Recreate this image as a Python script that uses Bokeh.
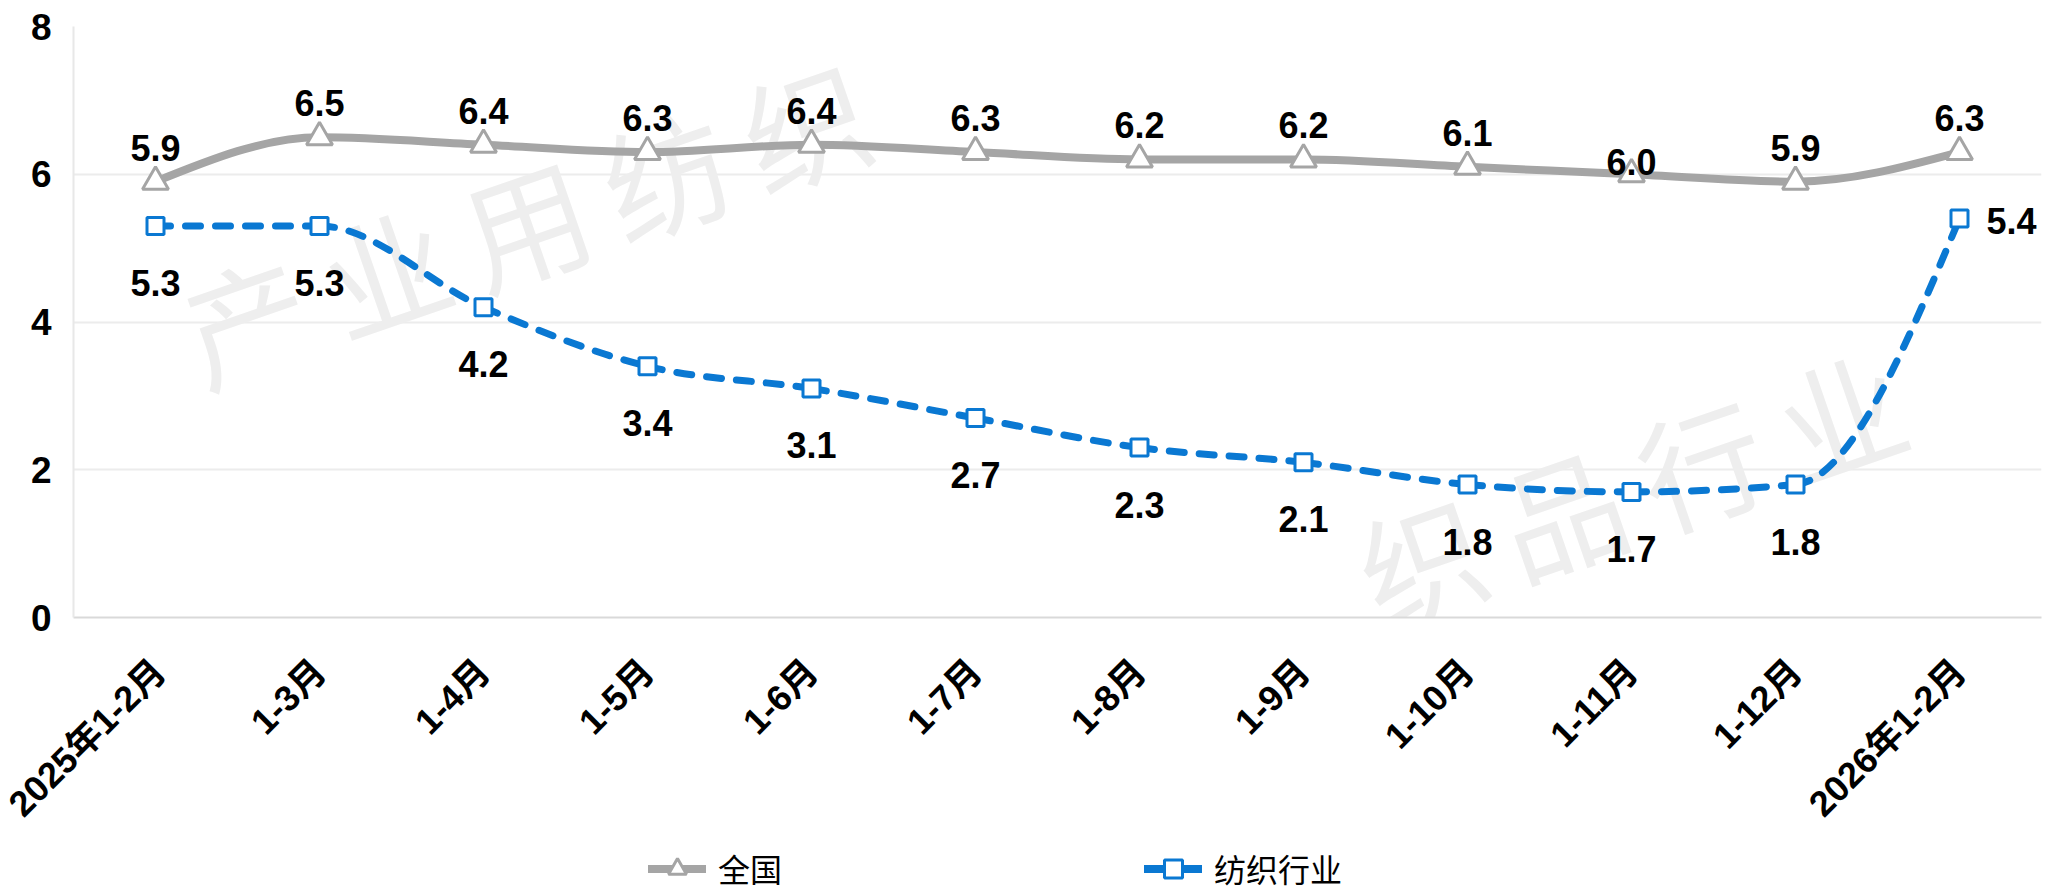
import math
import numpy as np
from bokeh.plotting import figure
from bokeh.layouts import column
from bokeh.models import (Range1d, FixedTicker, Legend, LegendItem, Label,
                          ColumnDataSource)
from bokeh.embed import file_html
from bokeh.resources import INLINE
from bokeh.core.properties import value

# ---------------- data ----------------
categories = ["2025年1-2月", "1-3月", "1-4月", "1-5月", "1-6月", "1-7月",
              "1-8月", "1-9月", "1-10月", "1-11月", "1-12月", "2026年1-2月"]
national = [5.9, 6.5, 6.4, 6.3, 6.4, 6.3, 6.2, 6.2, 6.1, 6.0, 5.9, 6.3]
textile = [5.3, 5.3, 4.2, 3.4, 3.1, 2.7, 2.3, 2.1, 1.8, 1.7, 1.8, 5.4]
series_names = ["全国", "纺织行业"]
y_ticks = [0, 2, 4, 6, 8]
watermark_text = "中国产业用纺织品行业协会"

# ---------------- style ----------------
W, H_MAIN, H_LEG = 2046, 843, 52
FL, FT, FB, FR = 73, 26, 617, 2041          # frame edges on the page
GRAY = "#a5a5a5"
BLUE = "#0a78d2"
NUM_FONT = "'Liberation Sans', 'Noto Sans CJK SC', sans-serif"
CJK_FONT = "'Noto Sans CJK SC', sans-serif"
national_label_dy = [-34] * len(national)
national_label_dy[9] = -12
textile_label_dx = [0] * len(textile)
textile_label_dy = [57] * len(textile)
textile_label_dx[-1] = 52
textile_label_dy[-1] = 2

xs = list(range(len(categories)))


def monotone_segments(x, y):
    """Smoothed (monotone cubic) line as bezier segments; the control points
    are derived from the series points so the curve never overshoots."""
    n = len(x)
    h = [x[i + 1] - x[i] for i in range(n - 1)]
    s = [(y[i + 1] - y[i]) / h[i] for i in range(n - 1)]
    t = [0.0] * n
    for i in range(1, n - 1):
        s0, s1 = s[i - 1], s[i]
        pp = (s0 * h[i] + s1 * h[i - 1]) / (h[i - 1] + h[i])
        sg = (math.copysign(1, s0) if s0 else 0) + (math.copysign(1, s1) if s1 else 0)
        t[i] = sg * min(abs(s0), abs(s1), 0.5 * abs(pp))
    t[0] = (3 * s[0] - t[1]) / 2
    t[-1] = (3 * s[-1] - t[-2]) / 2
    out = {k: [] for k in ("x0", "y0", "x1", "y1", "cx0", "cy0", "cx1", "cy1")}
    for i in range(n - 1):
        dx = h[i] / 3
        out["x0"].append(x[i]); out["y0"].append(y[i])
        out["x1"].append(x[i + 1]); out["y1"].append(y[i + 1])
        out["cx0"].append(x[i] + dx); out["cy0"].append(y[i] + dx * t[i])
        out["cx1"].append(x[i + 1] - dx); out["cy1"].append(y[i + 1] - dx * t[i + 1])
    return out


p = figure(width=W, height=H_MAIN,
           x_range=Range1d(-0.5, len(categories) - 0.5),
           y_range=Range1d(0, 8),
           output_backend="svg", toolbar_location=None,
           min_border_left=FL, min_border_right=W - FR,
           min_border_top=FT, min_border_bottom=H_MAIN - FB)
p.outline_line_color = None
p.background_fill_color = "white"
p.border_fill_color = "white"

# watermark (faint, behind the data; only characters that lie inside the plot area)
theta = math.atan2(48.5, 140)
step = 148
for (sx0, sy0) in [(-35, 413), (581, 848)]:
    for k, ch in enumerate(watermark_text):
        sxk = sx0 + k * step * math.cos(theta)
        syk = sy0 - k * step * math.sin(theta)
        if sxk - 75 < FL or sxk + 75 > FR or syk - 52 < FT or syk + 52 > FB:
            continue
        p.add_layout(Label(x=sxk - FL, y=FB - syk, x_units="screen", y_units="screen",
                           text=ch, angle=theta, text_align="center",
                           text_baseline="middle", text_font=CJK_FONT,
                           text_font_size="125px", text_color="#eeeeee",
                           level="underlay"))

# axes
p.xaxis.ticker = FixedTicker(ticks=xs)
p.xaxis.major_label_overrides = {i: c for i, c in enumerate(categories)}
p.xaxis.major_label_orientation = math.pi / 4
p.xaxis.major_label_text_font = NUM_FONT
p.xaxis.major_label_text_font_style = "bold"
p.xaxis.major_label_text_font_size = "36px"
p.xaxis.major_label_text_color = "black"
p.xaxis.axis_line_color = "#d9d9d9"
p.xaxis.axis_line_width = 2
p.xaxis.major_tick_line_color = None
p.xaxis.minor_tick_line_color = None
p.xaxis.major_label_standoff = 42

p.yaxis.ticker = FixedTicker(ticks=y_ticks)
p.yaxis.major_label_text_font = NUM_FONT
p.yaxis.major_label_text_font_style = "bold"
p.yaxis.major_label_text_font_size = "37px"
p.yaxis.major_label_text_color = "black"
p.yaxis.axis_line_color = "#e8e8e8"
p.yaxis.axis_line_width = 2
p.yaxis.major_tick_line_color = None
p.yaxis.minor_tick_line_color = None
p.yaxis.major_label_standoff = 16

p.xgrid.grid_line_color = None
p.ygrid.ticker = FixedTicker(ticks=y_ticks)
p.ygrid.grid_line_color = "#ececec"
p.ygrid.grid_line_width = 2

# smoothed lines
seg_n = monotone_segments(xs, national)
p.bezier(source=ColumnDataSource(seg_n), x0="x0", y0="y0", x1="x1", y1="y1",
         cx0="cx0", cy0="cy0", cx1="cx1", cy1="cy1",
         line_color=GRAY, line_width=8, line_cap="round")
seg_t = monotone_segments(xs, textile)
p.bezier(source=ColumnDataSource(seg_t), x0="x0", y0="y0", x1="x1", y1="y1",
         cx0="cx0", cy0="cy0", cx1="cx1", cy1="cy1",
         line_color=BLUE, line_width=7, line_cap="round", line_dash="15 15")

# markers
p.scatter(xs, national, marker="triangle", size=26, fill_color="white",
          line_color=GRAY, line_width=3)
p.scatter(xs, textile, marker="square", size=17, fill_color="white",
          line_color=BLUE, line_width=3)

# data labels
src_n = ColumnDataSource(dict(x=xs, y=national, t=[f"{v:.1f}" for v in national],
                              dy=national_label_dy))
p.text(x="x", y="y", text="t", source=src_n, y_offset="dy",
       text_font=value(NUM_FONT), text_font_style="bold", text_font_size="36px",
       text_align="center", text_baseline="alphabetic", text_color="black")
src_t = ColumnDataSource(dict(x=xs, y=textile, t=[f"{v:.1f}" for v in textile],
                              dx=textile_label_dx, dy=textile_label_dy))
p.text(x="x", y="y", text="t", source=src_t, x_offset="dx", y_offset="dy",
       text_font=value(NUM_FONT), text_font_style="bold", text_font_size="36px",
       text_align="center", text_baseline="alphabetic", text_color="black")

# ---------------- legend strip below the chart ----------------
lg = figure(width=W, height=H_LEG, x_range=Range1d(0, 1), y_range=Range1d(0, 1),
            output_backend="svg", toolbar_location=None,
            x_axis_location=None, y_axis_location=None,
            min_border=0, min_border_left=0, min_border_right=0,
            min_border_top=0, min_border_bottom=0)
lg.outline_line_color = None
lg.grid.visible = False
lg.background_fill_color = "white"
lg.border_fill_color = "white"
nan2 = [np.nan, np.nan]
pl_n = lg.line(nan2, nan2, line_color=GRAY, line_width=8, line_cap="round")
pm_n = lg.scatter(nan2, nan2, marker="triangle", fill_color="white",
                  line_color=GRAY, line_width=3)
pl_t = lg.line(nan2, nan2, line_color=BLUE, line_width=8, line_cap="round")
pm_t = lg.scatter(nan2, nan2, marker="square", fill_color="white",
                  line_color=BLUE, line_width=3)
legend = Legend(items=[LegendItem(label=series_names[0], renderers=[pl_n, pm_n]),
                       LegendItem(label=series_names[1], renderers=[pl_t, pm_t])],
                orientation="horizontal", location=(575, 4),
                glyph_width=58, glyph_height=45, label_standoff=12, spacing=362,
                padding=0, margin=0, border_line_color=None,
                background_fill_alpha=0,
                label_text_font=CJK_FONT, label_text_font_size="32px",
                label_text_color="black", label_text_baseline="middle")
lg.add_layout(legend)

page = column(p, lg, spacing=0)
open("out.html", "w").write(file_html(page, INLINE))
